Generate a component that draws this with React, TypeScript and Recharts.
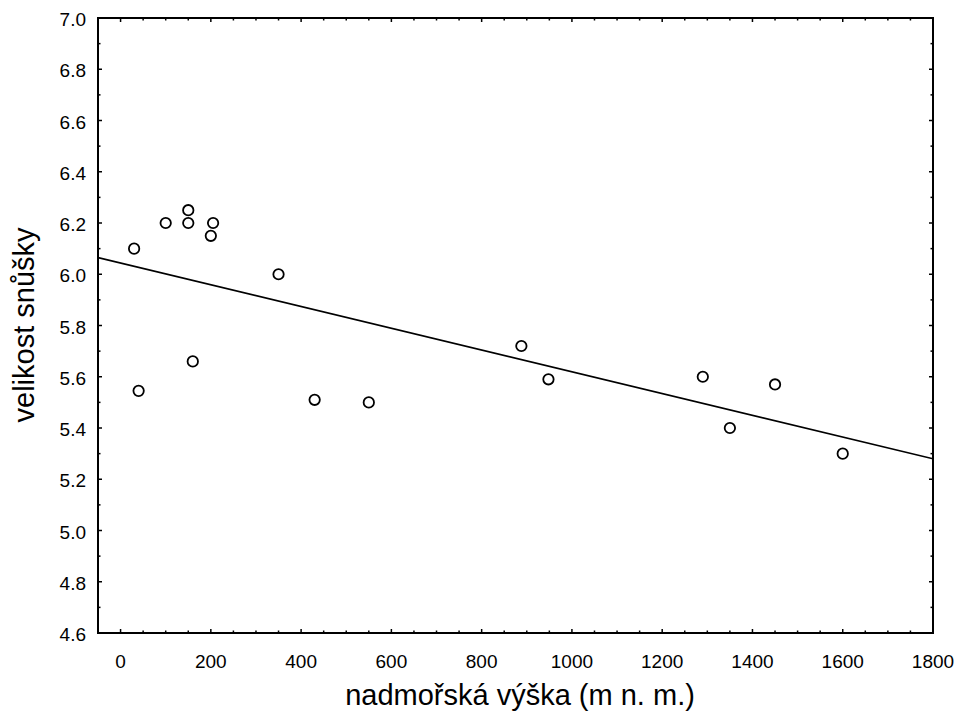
import { ScatterChart, Scatter, XAxis, YAxis } from 'recharts';

// altitude (m a.s.l.) vs clutch size
const altitude = [30, 40, 100, 150, 150, 160, 200, 205, 350, 430, 550, 888, 948, 1290, 1350, 1450, 1600];
const clutchSize = [6.1, 5.545, 6.2, 6.25, 6.2, 5.66, 6.15, 6.2, 6.0, 5.51, 5.5, 5.72, 5.59, 5.6, 5.4, 5.57, 5.3];

// fitted regression line, drawn edge to edge
const trendX = [-50, 1800];
const trendY = [6.065, 5.28];

const xTicks = [0, 50, 100, 150, 200, 250, 300, 350, 400, 450, 500, 550, 600, 650, 700, 750, 800, 850, 900, 950, 1000, 1050, 1100, 1150, 1200, 1250, 1300, 1350, 1400, 1450, 1500, 1550, 1600, 1650, 1700, 1750, 1800];
const yTicks = [4.6, 4.7, 4.8, 4.9, 5.0, 5.1, 5.2, 5.3, 5.4, 5.5, 5.6, 5.7, 5.8, 5.9, 6.0, 6.1, 6.2, 6.3, 6.4, 6.5, 6.6, 6.7, 6.8, 6.9, 7.0];

const points = altitude.map((x, i) => ({ x, y: clutchSize[i] }));
const trend = trendX.map((x, i) => ({ x, y: trendY[i] }));

const FONT = '"Liberation Sans", Arial, Helvetica, sans-serif';
const isMajorX = (v: number) => v % 200 === 0;
const isMajorY = (v: number) => Math.round(v * 10) % 2 === 0;

const BottomTick = ({ x, y, payload }: any) => {
  const major = isMajorX(payload.value);
  return (
    <g>
      <line x1={x} x2={x} y1={y} y2={y - (major ? 4 : 2.5)} stroke="#000" strokeWidth={1.5} />
      {major && (
        <text x={x} y={y + 35} textAnchor="middle" fontSize={19} fontFamily={FONT} fill="#000">
          {payload.value}
        </text>
      )}
    </g>
  );
};

const TopTick = ({ x, y, payload }: any) => {
  const major = isMajorX(payload.value);
  return <line x1={x} x2={x} y1={y} y2={y + (major ? 4 : 2.5)} stroke="#000" strokeWidth={1.5} />;
};

const LeftTick = ({ x, y, payload }: any) => {
  const major = isMajorY(payload.value);
  return (
    <g>
      <line x1={x} x2={x + (major ? 4 : 2.5)} y1={y} y2={y} stroke="#000" strokeWidth={1.5} />
      {major && (
        <text x={x - 12} y={y + 8} textAnchor="end" fontSize={19} fontFamily={FONT} fill="#000">
          {payload.value.toFixed(1)}
        </text>
      )}
    </g>
  );
};

const RightTick = ({ x, y, payload }: any) => {
  const major = isMajorY(payload.value);
  return <line x1={x} x2={x - (major ? 4 : 2.5)} y1={y} y2={y} stroke="#000" strokeWidth={1.5} />;
};

const Ring = ({ cx, cy }: any) => (
  <circle cx={cx} cy={cy} r={5.2} fill="none" stroke="#000" strokeWidth={1.8} />
);

const axisLine = { stroke: '#000', strokeWidth: 2, strokeLinecap: 'square' as const };

export default function App() {
  return (
    <div style={{ position: 'absolute', left: 0, top: 0, background: '#fff' }}>
      <ScatterChart width={960} height={723} margin={{ top: 0, right: 0, bottom: 0, left: 0 }}>
        <XAxis
          xAxisId="bottom"
          type="number"
          dataKey="x"
          domain={[-50, 1800]}
          allowDataOverflow
          ticks={xTicks}
          interval={0}
          tickSize={0}
          tickMargin={0}
          tickLine={false}
          axisLine={axisLine}
          tick={<BottomTick />}
          height={90}
          label={{
            content: () => (
              <text x={520} y={705} textAnchor="middle" fontSize={29} fontFamily={FONT} fill="#000">
                nadmořská výška (m n. m.)
              </text>
            ),
          }}
        />
        <XAxis
          xAxisId="top"
          orientation="top"
          type="number"
          dataKey="x"
          domain={[-50, 1800]}
          allowDataOverflow
          ticks={xTicks}
          interval={0}
          tickSize={0}
          tickMargin={0}
          tickLine={false}
          axisLine={axisLine}
          tick={<TopTick />}
          height={18}
        />
        <YAxis
          yAxisId="left"
          type="number"
          dataKey="y"
          domain={[4.6, 7.0]}
          allowDataOverflow
          ticks={yTicks}
          interval={0}
          tickSize={0}
          tickMargin={0}
          tickLine={false}
          axisLine={axisLine}
          tick={<LeftTick />}
          width={98}
          label={{
            content: () => (
              <text
                x={34}
                y={325}
                transform="rotate(-90 34 325)"
                textAnchor="middle"
                fontSize={29}
                fontFamily={FONT}
                fill="#000"
              >
                velikost snůšky
              </text>
            ),
          }}
        />
        <YAxis
          yAxisId="right"
          orientation="right"
          type="number"
          dataKey="y"
          domain={[4.6, 7.0]}
          allowDataOverflow
          ticks={yTicks}
          interval={0}
          tickSize={0}
          tickMargin={0}
          tickLine={false}
          axisLine={axisLine}
          tick={<RightTick />}
          width={27}
        />
        <Scatter
          data={trend}
          xAxisId="top"
          yAxisId="right"
          line={{ stroke: '#000', strokeWidth: 1.7 }}
          shape={() => <g />}
          isAnimationActive={false}
        />
        <Scatter
          data={points}
          xAxisId="bottom"
          yAxisId="left"
          shape={<Ring />}
          isAnimationActive={false}
        />
      </ScatterChart>
    </div>
  );
}
